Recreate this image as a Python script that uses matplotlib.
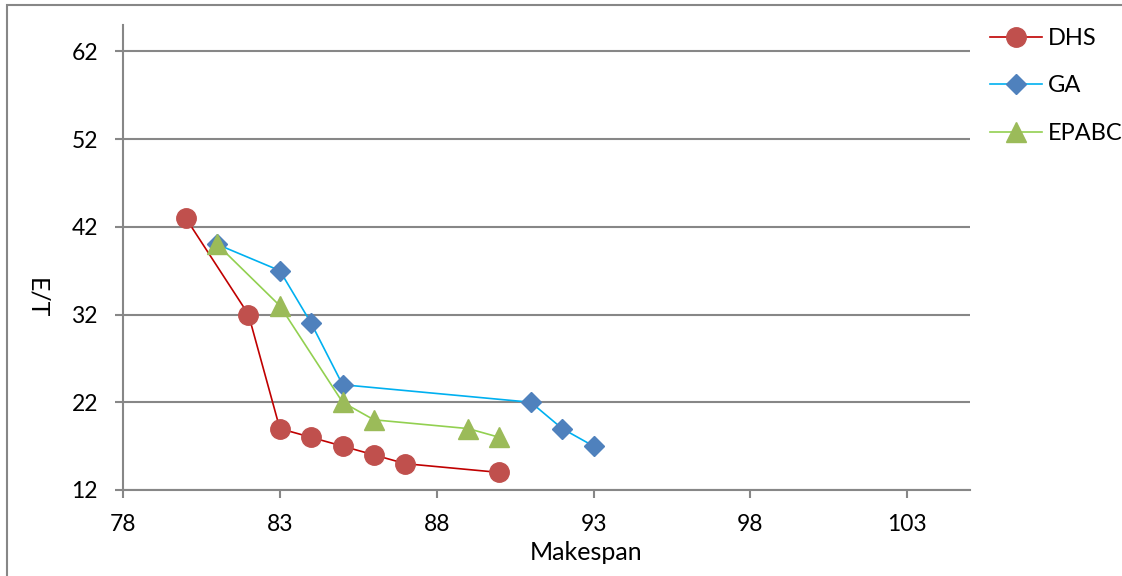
import matplotlib
matplotlib.use("Agg")
import matplotlib.pyplot as plt
from matplotlib.patches import Rectangle

plt.rcParams['font.family'] = ['Lato', 'DejaVu Sans']

dhs_x = [80, 82, 83, 84, 85, 86, 87, 90]
dhs_y = [43, 32, 19, 18, 17, 16, 15, 14]
ga_x = [81, 83, 84, 85, 91, 92, 93]
ga_y = [40, 37, 31, 24, 22, 19, 17]
ep_x = [81, 83, 85, 86, 89, 90]
ep_y = [40, 33, 22, 20, 19, 18]
x_ticks = [78, 83, 88, 93, 98, 103]
y_ticks = [12, 22, 32, 42, 52, 62]

W, H = 1122, 576
fig = plt.figure(figsize=(W/100, H/100), dpi=100)
ax = fig.add_axes([123/W, 1-490/H, (970-123)/W, (490-25)/H])

ax.plot(dhs_x, dhs_y, color='#C00000', lw=1.2, marker='o', ms=14,
        mfc='#C0504D', mec='#C0504D', label='DHS', zorder=3)
ax.plot(ga_x, ga_y, color='#00B0F0', lw=1.2, marker='D', ms=10,
        mfc='#4F81BD', mec='#4F81BD', label='GA', zorder=4)
ax.plot(ep_x, ep_y, color='#92D050', lw=1.2, marker='^', ms=14,
        mfc='#9BBB59', mec='#9BBB59', label='EPABC', zorder=5)

ax.set_xlim(78, 105)
ax.set_ylim(12, 65)
ax.set_xticks(x_ticks)
ax.set_yticks(y_ticks)
ax.grid(axis='y', color='#878787', lw=1.5)
ax.set_axisbelow(True)
for s in ['top', 'right']:
    ax.spines[s].set_visible(False)
for s in ['left', 'bottom']:
    ax.spines[s].set_color('#878787')
    ax.spines[s].set_linewidth(1.5)
ax.tick_params(axis='both', colors='#878787', labelcolor='black', labelsize=16.5,
               width=1.5, length=6)
ax.tick_params(axis='x', pad=11)
ax.tick_params(axis='y', pad=12)

fig.text(586/W, 1-553/H, 'Makespan', fontsize=18, ha='center', va='center')
fig.text(37/W, 1-298/H, 'E/T', fontsize=18, ha='center', va='center', rotation=270)

fig.legend(loc='upper left', bbox_to_anchor=(990/W, 1-28/H), frameon=False,
           fontsize=17, handlelength=2.2, labelspacing=1.12, handletextpad=0.25,
           borderaxespad=0, borderpad=0)

fig.patches.append(Rectangle((7/W, -0.1), 1.2, 1-5/H+0.1, transform=fig.transFigure,
                             fill=False, edgecolor='#878787', lw=1.5))

fig.savefig('out.png', dpi=100)
